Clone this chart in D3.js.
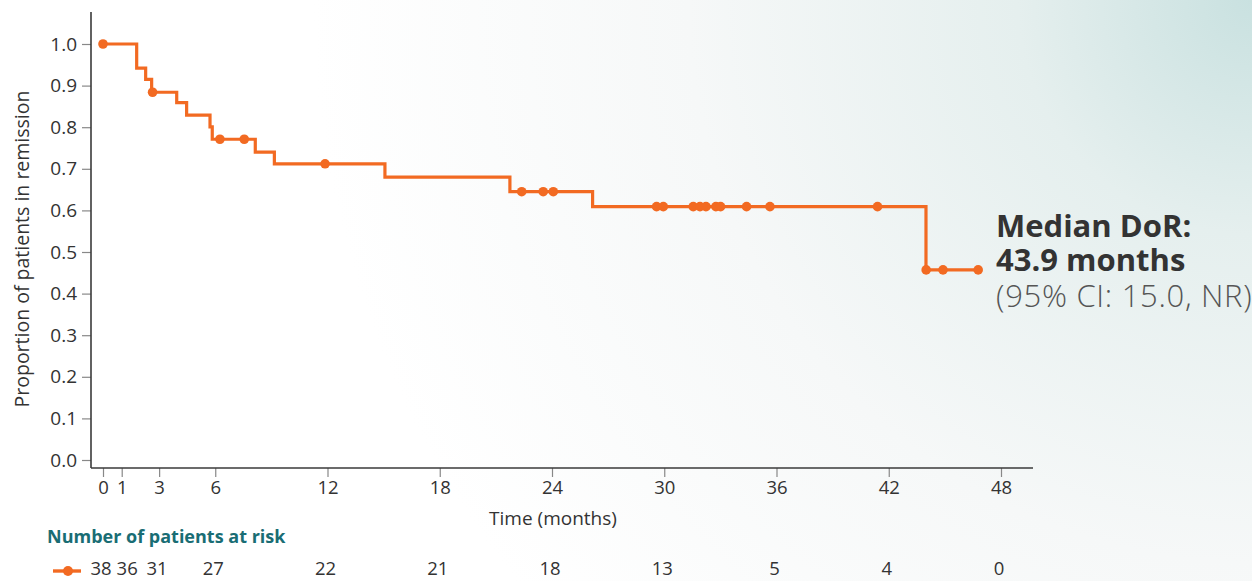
<!DOCTYPE html>
<html><head><meta charset="utf-8">
<script src="https://cdn.jsdelivr.net/npm/d3@7"></script>
<style>
html,body{margin:0;padding:0;background:#fff;}
svg{display:block;font-family:"Open Sans",Lato,sans-serif;}
</style></head>
<body><div id="chart"></div>
<script>
// ---- data ----
const stepTimes = [0, 1.8, 2.28, 2.6, 3.94, 4.47, 5.72, 5.84, 8.14, 9.16, 15.07, 21.75, 26.17, 43.99];
const stepSurv  = [1.0, 0.942, 0.915, 0.884, 0.859, 0.829, 0.801, 0.771, 0.740, 0.712, 0.680, 0.645, 0.609, 0.457];
const endTime = 46.78;
const censorTimes = [0, 2.65, 6.25, 7.55, 11.87, 22.38, 23.53, 24.07, 29.59, 29.95, 31.55, 31.91, 32.23, 32.76, 33.01, 34.4, 35.65, 41.4, 44.0, 44.9, 46.78];
const xTicks = [0, 1, 3, 6, 12, 18, 24, 30, 36, 42, 48];
const yTicks = [0, 0.1, 0.2, 0.3, 0.4, 0.5, 0.6, 0.7, 0.8, 0.9, 1.0];
const riskTimes = [0, 1, 3, 6, 12, 18, 24, 30, 36, 42, 48];
const riskCounts = [38, 36, 31, 27, 22, 21, 18, 13, 5, 4, 0];
const medianLines = ["Median DoR:", "43.9 months", "(95% CI: 15.0, NR)"];

const W = 1252, H = 581;
const orange = "#f26a22";
const txtColor = "#333";
const svg = d3.select("#chart").append("svg").attr("width", W).attr("height", H);

// background
const defs = svg.append("defs");
const rg = defs.append("radialGradient").attr("id","bgR").attr("cx",1.0).attr("cy",0.0).attr("r",0.75)
  .attr("gradientTransform","scale(1,2.15)");
rg.append("stop").attr("offset",0).attr("stop-color","#c9e1e0");
rg.append("stop").attr("offset",0.25).attr("stop-color","#e5efee");
rg.append("stop").attr("offset",0.6).attr("stop-color","#f6f8f8");
rg.append("stop").attr("offset",1).attr("stop-color","#ffffff");
svg.append("rect").attr("width",W).attr("height",H).attr("fill","url(#bgR)");

const x = d3.scaleLinear().domain([0, 48]).range([103, 1001]);
const y = d3.scaleLinear().domain([0, 1]).range([460, 44]);

// axes
const axisColor = "#3a3a3a";
const xAxisY = 468, yAxisX = 91;
const gx = svg.append("g").attr("transform", `translate(0,${xAxisY})`)
  .call(d3.axisBottom(x).tickValues(xTicks).tickSize(9).tickPadding(4).tickSizeOuter(0));
gx.select(".domain").remove();
gx.selectAll(".tick line").attr("stroke", "#888").attr("stroke-width", 1.2);
gx.selectAll(".tick text").attr("fill", txtColor).attr("font-size", 18.5).attr("font-family", "Open Sans, sans-serif");
svg.append("line").attr("x1", yAxisX).attr("x2", 1033).attr("y1", xAxisY).attr("y2", xAxisY)
  .attr("stroke", axisColor).attr("stroke-width", 1.6);

const gy = svg.append("g").attr("transform", `translate(${yAxisX},0)`)
  .call(d3.axisLeft(y).tickValues(yTicks).tickFormat(d3.format(".1f")).tickSize(9).tickPadding(5).tickSizeOuter(0));
gy.select(".domain").remove();
gy.selectAll(".tick line").attr("stroke", "#888").attr("stroke-width", 1.2);
gy.selectAll(".tick text").attr("fill", txtColor).attr("font-size", 19).attr("font-family", "Open Sans, sans-serif");
svg.append("line").attr("x1", yAxisX).attr("x2", yAxisX).attr("y1", 12).attr("y2", xAxisY)
  .attr("stroke", axisColor).attr("stroke-width", 1.6);

// axis titles
svg.append("text").attr("transform", `translate(29,249) rotate(-90)`)
  .attr("text-anchor", "middle").attr("font-size", 19.5).attr("fill", txtColor)
  .text("Proportion of patients in remission");
svg.append("text").attr("x", 553).attr("y", 525).attr("text-anchor", "middle")
  .attr("font-size", 19).attr("fill", txtColor).text("Time (months)");

// KM step curve
const pts = stepTimes.map((t, i) => [t, stepSurv[i]]);
pts.push([endTime, stepSurv[stepSurv.length - 1]]);
const line = d3.line().x(d => x(d[0])).y(d => y(d[1])).curve(d3.curveStepAfter);
svg.append("path").datum(pts).attr("d", line).attr("fill", "none")
  .attr("stroke", orange).attr("stroke-width", 3.2).attr("stroke-linejoin", "miter");

const bis = d3.bisector(d => d).right;
const survAt = t => stepSurv[Math.max(0, bis(stepTimes, t) - 1)];
svg.append("g").selectAll("circle").data(censorTimes).join("circle")
  .attr("cx", d => x(d)).attr("cy", d => y(survAt(d))).attr("r", 4.8).attr("fill", orange);

// median annotation (one text block, three lines)
const ann = svg.append("text").attr("x", 996).attr("y", 237).attr("font-size", 31);
ann.append("tspan").attr("x", 996).attr("font-weight", 700).attr("fill", "#333").text(medianLines[0]);
ann.append("tspan").attr("x", 996).attr("dy", 34).attr("font-weight", 700).attr("fill", "#333").text(medianLines[1]);
ann.append("tspan").attr("x", 996).attr("dy", 36).attr("font-weight", 300).attr("letter-spacing", 0.7)
  .attr("fill", "#555").text(medianLines[2]);

// number at risk
svg.append("text").attr("x", 47).attr("y", 543).attr("font-size", 18).attr("font-weight", 700)
  .attr("fill", "#196d74").text("Number of patients at risk");
svg.append("line").attr("x1", 53).attr("x2", 81).attr("y1", 571).attr("y2", 571)
  .attr("stroke", orange).attr("stroke-width", 3.4);
svg.append("circle").attr("cx", 68).attr("cy", 571).attr("r", 5).attr("fill", orange);
const riskG = svg.append("g");
let prevRight = -Infinity;
riskTimes.forEach((t, i) => {
  const txt = riskG.append("text").attr("x", x(t) - 2).attr("y", 575).attr("text-anchor", "middle")
    .attr("font-size", 18.5).attr("fill", txtColor).text(riskCounts[i]);
  const bb = txt.node().getBBox();
  if (bb.x < prevRight + 5) txt.attr("x", x(t) - 2 + (prevRight + 5 - bb.x));
  prevRight = txt.node().getBBox().x + bb.width;
});
</script></body></html>
